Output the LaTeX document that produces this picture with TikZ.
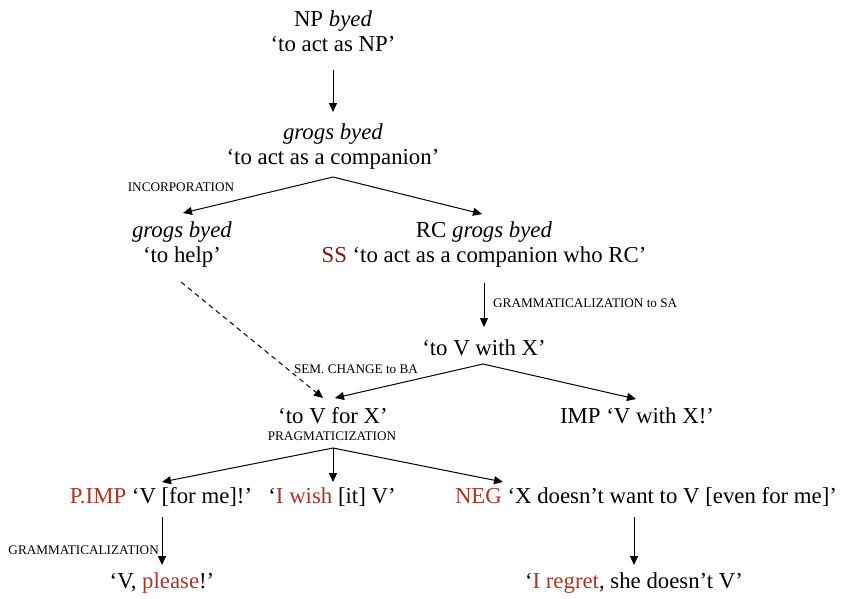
\documentclass[tikz,border=0pt]{standalone}
\usepackage{fontspec}
\setmainfont{Liberation Serif}
\usetikzlibrary{arrows.meta}
\definecolor{ssred}{RGB}{125,25,25}
\definecolor{myred}{RGB}{168,55,40}
\begin{document}
\begin{tikzpicture}[x=1pt,y=-1pt,
 every node/.style={font=\fontsize{22.8}{25}\selectfont, inner sep=0pt, align=center},
 lab/.style={font=\fontsize{13.2}{15}\selectfont},
 arr/.style={-{Triangle[length=9pt,width=8pt]}, line width=1pt},
 dasharr/.style={arr, dash pattern=on 5pt off 4pt},
]
\useasboundingbox[fill=white] (0,0) rectangle (841,598);
% nodes
\node (np) at (333,31) {NP \textit{byed}\\‘to act as NP’};
\node (comp) at (333,147) {\textit{grogs byed}\\‘to act as a companion’};
\node (help) at (182,245) {\textit{grogs byed}\\‘to help’};
\node (rc) at (484,245) {RC \textit{grogs byed}\\\textcolor{ssred}{SS} ‘to act as a companion who RC’};
\node (with) at (484,348) {‘to V with X’};
\node (for) at (333,416) {‘to V for X’};
\node (imp) at (637,416) {IMP ‘V with X!’};
\node (pimp) at (161,497) {\textcolor{myred}{P.IMP} ‘V [for me]!’};
\node (wish) at (332,497) {‘\textcolor{myred}{I wish} [it] V’};
\node (neg) at (646,497) {\textcolor{myred}{NEG} ‘X doesn’t want to V [even for me]’};
\node (please) at (162,583) {‘V, \textcolor{myred}{please}!’};
\node (regret) at (634,583) {‘\textcolor{myred}{I regret}, she doesn’t V’};
% labels
\node[lab] (l1) at (181,187) {INCORPORATION};
\node[lab,anchor=west] (l2) at (493,303) {GRAMMATICALIZATION to SA};
\node[lab] (l3) at (356,369) {SEM. CHANGE to BA};
\node[lab] (l4) at (332,436) {PRAGMATICIZATION};
\node[lab,anchor=east] (l5) at (159,550) {GRAMMATICALIZATION};
% connector points
\coordinate (a0) at (333,70);   \coordinate (a1) at (333,112);
\coordinate (b0) at (333,177);  \coordinate (b1) at (183,213); \coordinate (b2) at (482,214);
\coordinate (c0) at (484,283);  \coordinate (c1) at (484,327);
\coordinate (d0) at (181,282);  \coordinate (d1) at (323,398);
\coordinate (e0) at (483,364);  \coordinate (e1) at (335,398); \coordinate (e2) at (636,399);
\coordinate (f0) at (333,448);  \coordinate (f1) at (162,482); \coordinate (f2) at (333,482); \coordinate (f3) at (503,482);
\coordinate (g0) at (162,517);  \coordinate (g1) at (162,565);
\coordinate (h0) at (634,517);  \coordinate (h1) at (634,565);
% connectors
\draw[arr] (a0) -- (a1);
\draw[arr] (b0) -- (b1);
\draw[arr] (b0) -- (b2);
\draw[arr] (c0) -- (c1);
\draw[dasharr] (d0) -- (d1);
\draw[arr] (e0) -- (e1);
\draw[arr] (e0) -- (e2);
\draw[arr] (f0) -- (f1);
\draw[arr] (f0) -- (f2);
\draw[arr] (f0) -- (f3);
\draw[arr] (g0) -- (g1);
\draw[arr] (h0) -- (h1);
\end{tikzpicture}
\end{document}
